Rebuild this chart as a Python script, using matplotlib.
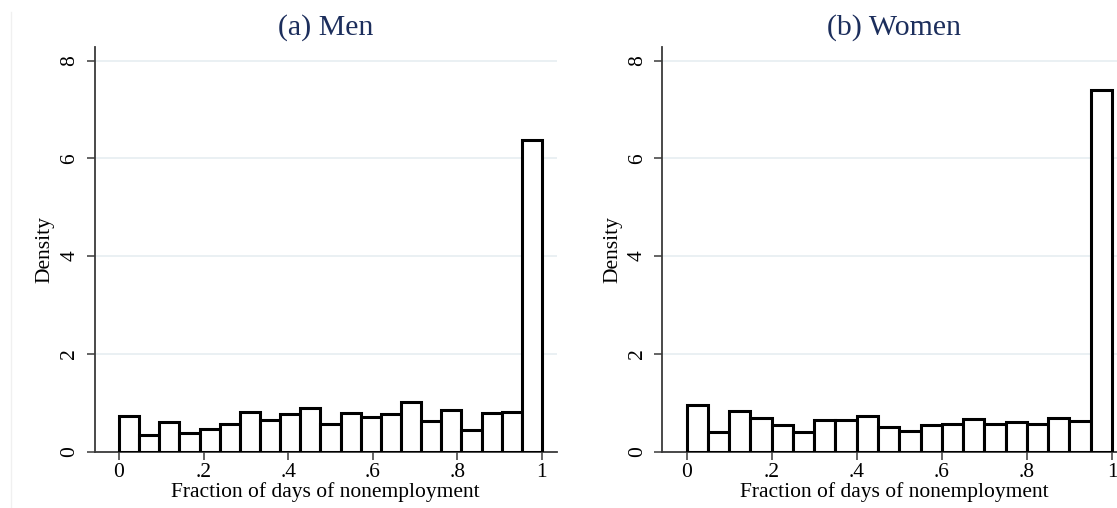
import numpy as np
import matplotlib
matplotlib.use('Agg')
import matplotlib.pyplot as plt
from matplotlib.lines import Line2D

plt.rcParams['font.family'] = ['Liberation Serif', 'DejaVu Serif']

# histogram heights (density)
men_density = [0.73, 0.34, 0.60, 0.37, 0.46, 0.57, 0.81, 0.65, 0.76, 0.90, 0.57,
               0.79, 0.70, 0.76, 1.01, 0.63, 0.85, 0.44, 0.78, 0.80, 6.37]
women_density = [0.95, 0.39, 0.82, 0.68, 0.54, 0.40, 0.64, 0.65, 0.73, 0.51,
                 0.41, 0.55, 0.56, 0.67, 0.57, 0.61, 0.57, 0.68, 0.63, 7.40]
titles = ['(a) Men', '(b) Women']
x_ticks = [0, 0.2, 0.4, 0.6, 0.8, 1]
x_ticklabels = ['0', '.2', '.4', '.6', '.8', '1']
y_ticks = [0, 2, 4, 6, 8]

axis_col = '#3a3a3a'
grid_col = '#e6eef1'
title_col = '#1c2e5c'

fig = plt.figure(figsize=(11.17, 5.08), dpi=100)
fig.set_facecolor('white')

# faint frame line at far left
fig.add_artist(Line2D([10.7 / 1117, 10.7 / 1117], [0, 1 - 12 / 508],
                      color='#f0f0f0', lw=1))

positions = [[0.0848, 0.1112, 0.4136, 0.7953],
             [0.5927, 0.1112, 0.4162, 0.7953]]

for pos, heights, title in zip(positions, [men_density, women_density], titles):
    ax = fig.add_axes(pos)
    n = len(heights)
    edges = np.linspace(0, 1, n + 1)
    ax.bar(edges[:-1], heights, width=np.diff(edges), align='edge',
           facecolor='white', edgecolor='black', linewidth=2.2, zorder=3)
    ax.set_xlim(-0.0575, 1.035)
    ax.set_ylim(0, 8.27)
    ax.set_yticks(y_ticks)
    ax.set_yticklabels([str(t) for t in y_ticks], rotation=90, va='center')
    ax.set_xticks(x_ticks)
    ax.set_xticklabels(x_ticklabels)
    ax.yaxis.grid(True, color=grid_col, lw=1.2, zorder=0)
    ax.set_axisbelow(True)
    for s in ['top', 'right']:
        ax.spines[s].set_visible(False)
    for s in ['left', 'bottom']:
        ax.spines[s].set_color(axis_col)
        ax.spines[s].set_linewidth(1.3)
    ax.tick_params(axis='both', direction='out', length=6, width=1.1,
                   color=axis_col, labelsize=15.5, labelcolor='black')
    ax.tick_params(axis='x', pad=2)
    ax.tick_params(axis='y', pad=5)
    ax.set_xlabel('Fraction of days of nonemployment', fontsize=15.5, labelpad=0)
    ax.set_ylabel('Density', fontsize=15.5, labelpad=4)
    ax.set_title(title, fontsize=21.5, color=title_col, pad=9)

fig.savefig('out.png', dpi=100, facecolor='white')
